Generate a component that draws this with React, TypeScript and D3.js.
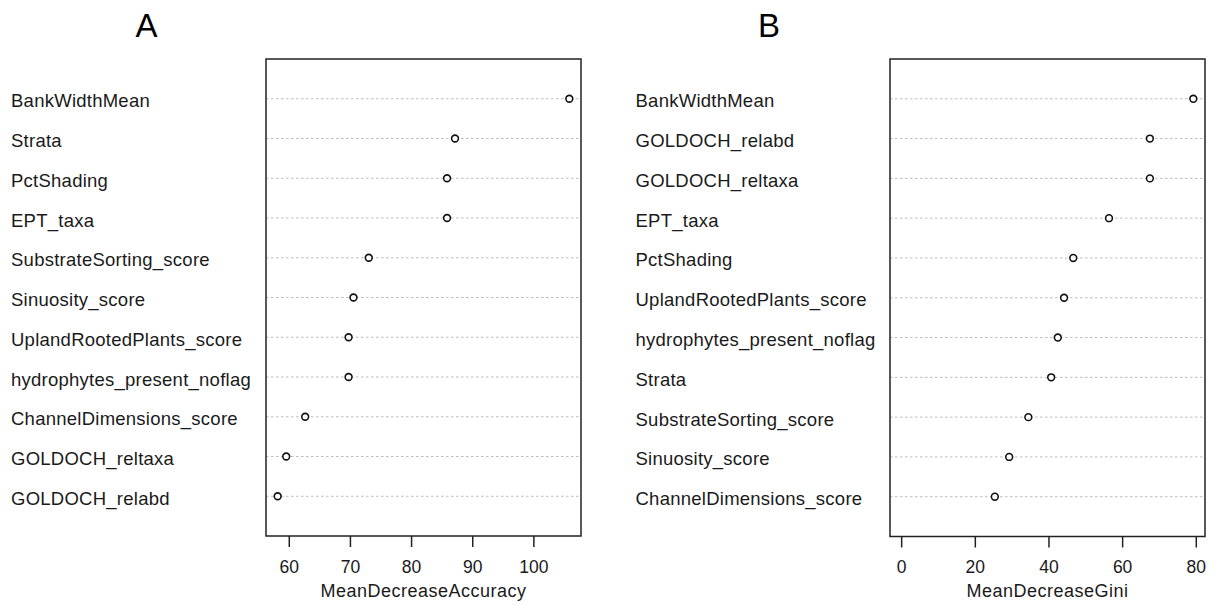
import React from "react";
import * as d3 from "d3";

const accVars = [
  "BankWidthMean",
  "Strata",
  "PctShading",
  "EPT_taxa",
  "SubstrateSorting_score",
  "Sinuosity_score",
  "UplandRootedPlants_score",
  "hydrophytes_present_noflag",
  "ChannelDimensions_score",
  "GOLDOCH_reltaxa",
  "GOLDOCH_relabd",
];
const accValues = [105.8, 87.1, 85.8, 85.8, 73.0, 70.5, 69.7, 69.7, 62.6, 59.5, 58.1];
const accTicks = [60, 70, 80, 90, 100];

const giniVars = [
  "BankWidthMean",
  "GOLDOCH_relabd",
  "GOLDOCH_reltaxa",
  "EPT_taxa",
  "PctShading",
  "UplandRootedPlants_score",
  "hydrophytes_present_noflag",
  "Strata",
  "SubstrateSorting_score",
  "Sinuosity_score",
  "ChannelDimensions_score",
];
const giniValues = [79.2, 67.4, 67.4, 56.3, 46.6, 44.1, 42.4, 40.6, 34.4, 29.2, 25.3];
const giniTicks = [0, 20, 40, 60, 80];

const FONT = "'Liberation Sans', Arial, sans-serif";

type PanelProps = {
  title: string;
  titleX: number;
  labelX: number;
  left: number;
  right: number;
  top: number;
  bottom: number;
  vars: string[];
  values: number[];
  ticks: number[];
  xTitle: string;
  zeroBase: boolean;
};

function Panel(p: PanelProps) {
  const n = p.vars.length;
  const lo = p.zeroBase ? 0 : (d3.min(p.values) as number);
  const hi = d3.max(p.values) as number;
  const ext = (hi - lo) * 0.04;
  const x = d3.scaleLinear().domain([lo - ext, hi + ext]).range([p.left, p.right]);
  const y = d3.scaleLinear().domain([0, n + 1]).range([p.bottom, p.top]);
  const cx = (p.left + p.right) / 2;
  return (
    <g>
      <text x={p.titleX} y={37} fontFamily={FONT} fontSize={33} textAnchor="middle" fill="#000">
        {p.title}
      </text>
      {p.vars.map((v, i) => {
        const yy = y(n - i);
        return (
          <g key={v}>
            <line
              x1={p.left}
              x2={p.right}
              y1={yy}
              y2={yy}
              stroke="#bcbcbc"
              strokeWidth={1}
              strokeDasharray="2.5,2.5"
            />
            <text
              x={p.labelX}
              y={yy + 8.5}
              fontFamily={FONT}
              fontSize={18.5}
              letterSpacing={0.25}
              fill="#1a1a1a"
            >
              {v}
            </text>
          </g>
        );
      })}
      {p.values.map((val, i) => (
        <circle
          key={i}
          cx={x(val)}
          cy={y(n - i)}
          r={3.4}
          fill="#fff"
          stroke="#111"
          strokeWidth={1.6}
        />
      ))}
      <rect
        x={p.left}
        y={p.top}
        width={p.right - p.left}
        height={p.bottom - p.top}
        fill="none"
        stroke="#222"
        strokeWidth={1.5}
      />
      {p.ticks.map((t) => (
        <g key={t}>
          <line x1={x(t)} x2={x(t)} y1={p.bottom} y2={p.bottom + 11} stroke="#222" strokeWidth={1.5} />
          <text x={x(t)} y={573} fontFamily={FONT} fontSize={17.5} textAnchor="middle" fill="#1a1a1a">
            {t}
          </text>
        </g>
      ))}
      <text
        x={cx}
        y={597}
        fontFamily={FONT}
        fontSize={18}
        letterSpacing={0.5}
        textAnchor="middle"
        fill="#1a1a1a"
      >
        {p.xTitle}
      </text>
    </g>
  );
}

export default function App() {
  return (
    <svg
      width={1217}
      height={605}
      style={{ position: "absolute", left: 0, top: 0, display: "block", background: "#fff" }}
    >
      <rect x={0} y={0} width={1217} height={605} fill="#fff" />
      <Panel
        title="A"
        titleX={146.5}
        labelX={11}
        left={266}
        right={581}
        top={59}
        bottom={536}
        vars={accVars}
        values={accValues}
        ticks={accTicks}
        xTitle="MeanDecreaseAccuracy"
        zeroBase={false}
      />
      <Panel
        title="B"
        titleX={769}
        labelX={635.5}
        left={890}
        right={1205}
        top={59}
        bottom={536.5}
        vars={giniVars}
        values={giniValues}
        ticks={giniTicks}
        xTitle="MeanDecreaseGini"
        zeroBase={true}
      />
    </svg>
  );
}
